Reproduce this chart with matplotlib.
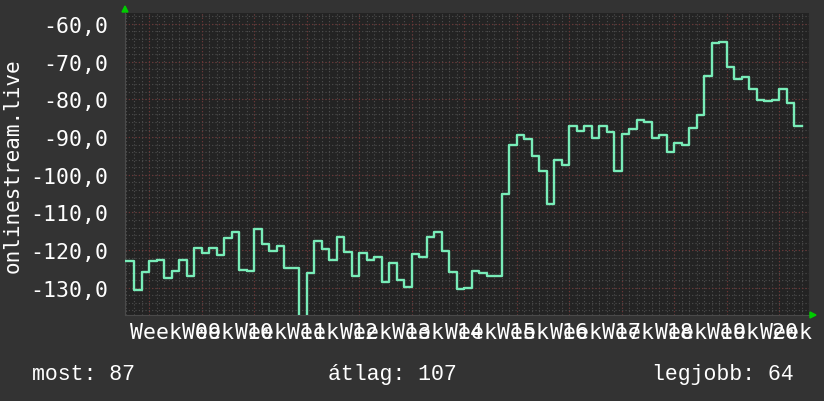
import numpy as np
import matplotlib
matplotlib.use("Agg")
import matplotlib.pyplot as plt

# daily values (one step per day)
values = [-123.0, -130.6, -125.9, -122.9, -122.5, -127.5, -125.4, -122.5, -126.8, -119.3,
          -120.7, -119.3, -121.2, -116.8, -115.1, -125.2, -125.5, -114.4, -118.3, -120.3,
          -118.8, -124.7, -124.7, -138.0, -126.1, -117.7, -119.7, -122.5, -116.4, -120.4,
          -126.8, -120.8, -122.5, -121.7, -128.5, -123.5, -127.9, -129.8, -121.0, -121.9,
          -116.6, -115.1, -120.1, -125.7, -130.3, -130.0, -125.4, -126.0, -126.8, -126.8,
          -105.1, -92.0, -89.4, -90.4, -94.9, -99.0, -107.7, -96.0, -97.4, -87.1,
          -88.5, -87.1, -90.2, -87.1, -88.7, -99.0, -89.2, -87.9, -85.5, -86.1,
          -90.2, -89.4, -93.9, -91.6, -92.0, -87.7, -84.1, -73.7, -65.0, -64.7,
          -71.3, -74.6, -74.0, -77.2, -80.1, -80.5, -80.3, -77.2, -80.9, -87.2]

week_labels = ["Week %02d" % w for w in range(9, 22)]
ytick_values = [-130, -120, -110, -100, -90, -80, -70, -60]
ylabel = "onlinestream.live"
legend_texts = ["most: 87", "átlag: 107", "legjobb: 64"]

BG = "#333333"
PLOT_BG = "#232323"
LINE = "#78ecb8"
MINOR = "#4e4e4e"
MAJOR = "#6e3333"
ARROW = "#00cc00"

W, H = 824, 402
fig = plt.figure(figsize=(W / 100, H / 100), dpi=100, facecolor=BG)
left, right, top, bottom = 125, 809, 14, 316
ax = fig.add_axes([left / W, 1 - bottom / H, (right - left) / W, (bottom - top) / H])
ax.set_facecolor(PLOT_BG)

ax.set_xlim(-0.2, 91.0)
ax.set_ylim(-137.2, -57.1)

# grid, rrdtool style dotted lines
for d in range(0, 92):
    ax.axvline(d, color=MINOR, lw=0.8, ls=(0, (1, 2)), zorder=1)
for v in np.arange(-136, -56, 2):
    ax.axhline(v, color=MINOR, lw=0.8, ls=(0, (1, 2)), zorder=1)
for d in range(3, 91, 7):
    ax.axvline(d, color=MAJOR, lw=0.8, ls=(0, (1, 2)), zorder=2)
for v in ytick_values:
    ax.axhline(v, color=MAJOR, lw=0.8, ls=(0, (1, 2)), zorder=2)

x = np.arange(len(values) + 1)
y = values + [values[-1]]
ax.step(x, y, where="post", color=LINE, lw=1.7, zorder=3)

# axes labels
ax.set_yticks(ytick_values)
ax.set_yticklabels([("%.1f" % v).replace(".", ",") for v in ytick_values],
                   family="DejaVu Sans Mono", fontsize=15.5, color="white")
ax.set_xticks([6.5 + 7 * k for k in range(len(week_labels))])
ax.set_xticklabels(week_labels, family="DejaVu Sans Mono", fontsize=15.5, color="white")
ax.tick_params(axis="y", length=0, pad=12)
ax.tick_params(axis="x", length=0, pad=5)

for s in ["top", "right"]:
    ax.spines[s].set_visible(False)
ax.spines["left"].set_color("#4a4a4a")
ax.spines["bottom"].set_color("#4a4a4a")

# arrows at axis ends
fig.patches.append(matplotlib.patches.Polygon(
    [[122 / W, 1 - 13 / H], [128 / W, 1 - 13 / H], [125 / W, 1 - 7 / H]],
    closed=True, color=ARROW, transform=fig.transFigure))
fig.patches.append(matplotlib.patches.Polygon(
    [[810 / W, 1 - 313 / H], [810 / W, 1 - 319 / H], [816 / W, 1 - 316 / H]],
    closed=True, color=ARROW, transform=fig.transFigure))

fig.text(13 / W, 1 - 166 / H, ylabel, rotation=90, ha="center", va="center",
         family="DejaVu Sans Mono", fontsize=15, color="white")

for xpos, t in zip([32, 328, 652], legend_texts):
    fig.text(xpos / W, 1 - 375 / H, t, ha="left", va="center",
             family="Liberation Mono", fontsize=15.5, color="white")

fig.savefig("out.png", dpi=100, facecolor=BG)
